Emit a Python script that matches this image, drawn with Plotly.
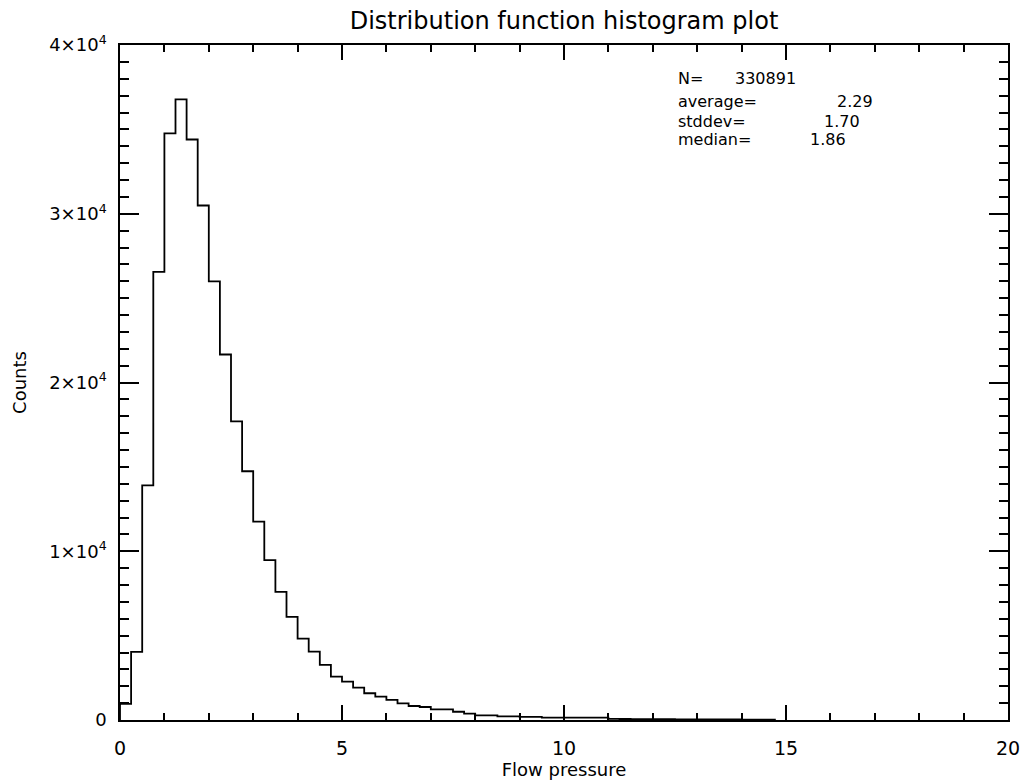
import plotly.graph_objects as go

# Histogram bin edges (width 0.25) and counts
bin_width = 0.25
bin_starts = [i * bin_width for i in range(59)]  # 0 .. 14.5
counts = [
    950, 4040, 13900, 26550, 34760, 36780, 34400, 30490,   # 0.0 - 2.0
    25995, 21660, 17700, 14740, 11750, 9476, 7597, 6113,   # 2.0 - 4.0
    4825, 4054, 3264, 2570, 2273, 1917, 1585, 1385,        # 4.0 - 6.0
    1187, 990, 830, 770, 635, 635, 490, 375,               # 6.0 - 8.0
    280, 280, 220, 220, 180, 180, 140, 140,                # 8.0 - 10.0
    140, 140, 140, 140, 70, 60, 55, 50,                    # 10.0 - 12.0
    45, 45, 40, 40, 35, 35, 30, 30,                        # 12.0 - 14.0
    25, 25, 20,                                            # 14.0 - 14.75
]

stats_labels = ["N=", "average=", "stddev=", "median="]
stats_values = ["330891", "2.29", "1.70", "1.86"]

y_tickvals = [0, 10000, 20000, 30000, 40000]
y_ticktext = ["0", "1×10<sup>4</sup>", "2×10<sup>4</sup>", "3×10<sup>4</sup>", "4×10<sup>4</sup>"]
x_tickvals = [0, 5, 10, 15, 20]

# step outline: start at axis, step through bins, end at axis
xs = [0.0] + bin_starts + [bin_starts[-1] + bin_width, bin_starts[-1] + bin_width]
ys = [0] + counts + [counts[-1], 0]

fig = go.Figure()
fig.add_trace(go.Scatter(
    x=xs, y=ys, mode="lines", line=dict(color="black", width=1.8, shape="hv"),
    hoverinfo="skip", showlegend=False,
))

font_family = "DejaVu Sans, Liberation Sans, sans-serif"

fig.update_layout(
    width=1026, height=784,
    margin=dict(l=120, r=18, t=45, b=64),
    paper_bgcolor="white", plot_bgcolor="white",
    font=dict(family=font_family, color="black", size=17),
    title=dict(text="Distribution function histogram plot", x=0.5, xanchor="center",
               xref="paper", y=0.974, yanchor="middle", font=dict(size=24)),
    showlegend=False,
)

fig.update_xaxes(
    range=[0, 20], tickvals=x_tickvals, ticktext=[str(v) for v in x_tickvals],
    showline=True, linecolor="black", linewidth=1.5, mirror="ticks",
    ticks="inside", ticklen=15, tickwidth=1.5, tickcolor="black",
    minor=dict(ticks="inside", ticklen=7, dtick=1, tick0=0, tickwidth=1.5,
               tickcolor="black", showgrid=False),
    showgrid=False, zeroline=False, automargin=False,
    ticklabelstandoff=10,
    title=dict(text="Flow pressure", font=dict(size=18), standoff=6),
    tickfont=dict(size=19),
)
fig.update_yaxes(
    range=[0, 40000], tickvals=y_tickvals, ticktext=y_ticktext,
    showline=True, linecolor="black", linewidth=1.5, mirror="ticks",
    ticks="inside", ticklen=19, tickwidth=1.5, tickcolor="black",
    minor=dict(ticks="inside", ticklen=9, dtick=1000, tick0=0, tickwidth=1.5,
               tickcolor="black", showgrid=False),
    showgrid=False, zeroline=False, automargin=False,
    ticklabelstandoff=8,
    title=dict(text="Counts", font=dict(size=18), standoff=18),
    tickfont=dict(size=18),
)

# statistics text block (paper coordinates)
label_y = [0.951, 0.916, 0.887, 0.860]
value_x = [0.690, 0.805, 0.790, 0.775]
for lab, val, yy, vx in zip(stats_labels, stats_values, label_y, value_x):
    fig.add_annotation(text=lab, x=0.626, y=yy, xref="paper", yref="paper",
                       xanchor="left", yanchor="middle", showarrow=False,
                       font=dict(size=16))
    fig.add_annotation(text=val, x=vx, y=yy, xref="paper", yref="paper",
                       xanchor="left", yanchor="middle", showarrow=False,
                       font=dict(size=16))

fig.write_html("out.html")
